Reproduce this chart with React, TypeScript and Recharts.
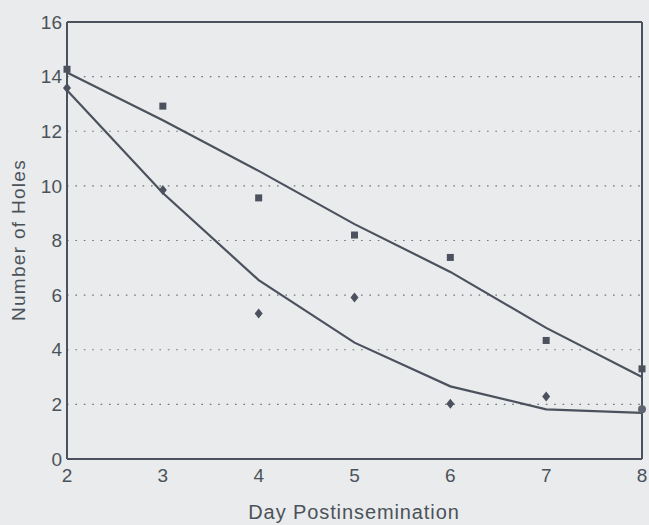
import { ComposedChart, Line, Scatter, XAxis, YAxis, CartesianGrid, ReferenceLine } from "recharts";

const days = [2, 3, 4, 5, 6, 7, 8];
const squareHoles = [14.27, 12.92, 9.56, 8.2, 7.38, 4.34, 3.3];
const diamondHoles = [13.58, 9.85, 5.33, 5.91, 2.02, 2.29, 1.82];
const upperFit = [14.15, 12.4, 10.55, 8.6, 6.85, 4.8, 3.0];
const lowerFit = [13.5, 9.74, 6.55, 4.26, 2.66, 1.82, 1.69];
const yTicks = [0, 2, 4, 6, 8, 10, 12, 14, 16];

const data = days.map((day, i) => ({
  day,
  square: squareHoles[i],
  diamond: diamondHoles[i],
  upper: upperFit[i],
  lower: lowerFit[i],
}));

const ink = "#4b525d";
const textColor = "#4c525a";
const font = "'Liberation Sans', Arial, sans-serif";

const SquareMark = (props: any) => {
  const { cx, cy } = props;
  return <rect x={cx - 3.5} y={cy - 3.5} width={7} height={7} fill={ink} />;
};

const DiamondMark = (props: any) => {
  const { cx, cy, payload } = props;
  // the last point was printed as a round dot
  if (payload && payload.day === 8) return <circle cx={cx} cy={cy} r={4} fill="#5d6571" />;
  return <path d={`M${cx},${cy - 5} L${cx + 4},${cy} L${cx},${cy + 5} L${cx - 4},${cy} Z`} fill={ink} />;
};

export default function App() {
  return (
    <div style={{ position: "absolute", left: 0, top: 0, width: 649, height: 525, background: "#e9ebec" }}>
      <ComposedChart width={649} height={525} data={data} margin={{ top: 22, right: 7, bottom: 0, left: 0 }}>
        <CartesianGrid vertical={false} stroke="#6f757d" strokeDasharray="1.6 6.8" strokeWidth={1.2} />
        <XAxis
          dataKey="day"
          type="number"
          domain={[2, 8]}
          ticks={days}
          height={66}
          tickSize={0}
          tickMargin={10}
          axisLine={{ stroke: ink, strokeWidth: 2 }}
          tick={{ fontSize: 19, fill: textColor, fontFamily: font }}
          label={{
            content: () => (
              <text x={354} y={519} textAnchor="middle" fontSize={20} letterSpacing={0.9} fill={textColor} fontFamily={font}>
                Day Postinsemination
              </text>
            ),
          }}
        />
        <YAxis
          type="number"
          domain={[0, 16]}
          ticks={yTicks}
          width={67}
          tickSize={0}
          tickMargin={5}
          axisLine={{ stroke: ink, strokeWidth: 2 }}
          tick={{ fontSize: 19, fill: textColor, fontFamily: font }}
          label={{
            content: () => (
              <text
                x={25}
                y={240}
                transform="rotate(-90 25 240)"
                textAnchor="middle"
                fontSize={19}
                letterSpacing={1.3}
                fill={textColor}
                fontFamily={font}
              >
                Number of Holes
              </text>
            ),
          }}
        />
        <ReferenceLine y={16} stroke={ink} strokeWidth={2} />
        <ReferenceLine x={8} stroke={ink} strokeWidth={2} />
        <Line dataKey="upper" type="linear" stroke={ink} strokeWidth={2.2} dot={false} isAnimationActive={false} />
        <Line dataKey="lower" type="linear" stroke={ink} strokeWidth={2.2} dot={false} isAnimationActive={false} />
        <Scatter dataKey="square" shape={SquareMark} isAnimationActive={false} />
        <Scatter dataKey="diamond" shape={DiamondMark} isAnimationActive={false} />
      </ComposedChart>
    </div>
  );
}
